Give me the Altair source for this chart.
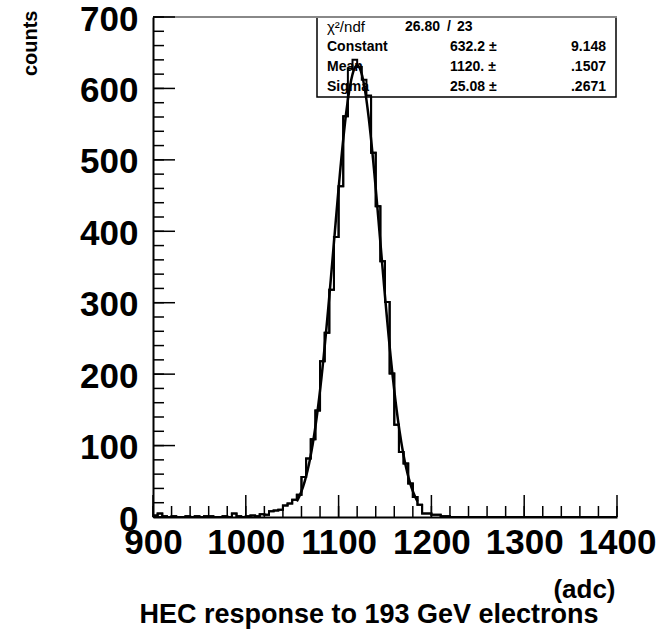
import altair as alt
import pandas as pd

FONT = "Liberation Sans"

# ---- data -------------------------------------------------------------
bin_low = [900 + 5 * i for i in range(100)]          # 5-adc bins, 900..1400
counts = [
    2, 5, 1, 0, 1, 0, 0, 1, 0, 1,            # 900-945
    0, 1, 1, 0, 0, 1, 0, 5, 1, 0,            # 950-995
    1, 2, 1, 4, 3, 8, 9, 10, 16, 19,         # 1000-1045
    24, 31, 56, 82, 109, 149, 218, 258, 318, 392,   # 1050-1095
    463, 561, 628, 640, 630, 612, 590, 510, 435, 358,  # 1100-1145
    301, 201, 129, 91, 75, 47, 28, 17, 5, 5,  # 1150-1195
    3, 3, 1, 1, 0, 0, 0, 0, 0, 0,            # 1200-1245
    0, 0, 0, 0, 0, 0, 0, 0, 0, 0,            # 1250-1295
    0, 0, 0, 0, 0, 0, 0, 0, 0, 0,            # 1300-1345
    0, 0, 0, 0, 0, 0, 0, 0, 0, 0,            # 1350-1395
]
fit_const, fit_mean, fit_sigma = 632.2, 1120.0, 25.08
fit_lo, fit_hi = 1055, 1185

x_major = [900, 1000, 1100, 1200, 1300, 1400]
x_minor = list(range(900, 1401, 20))
y_major = [0, 100, 200, 300, 400, 500, 600, 700]
y_minor = list(range(0, 701, 20))

stat_names = ["Constant", "Mean", "Sigma"]
stat_values = ["632.2 \u00b1", "1120. \u00b1", "25.08 \u00b1"]
stat_errors = ["9.148", ".1507", ".2671"]
chi2_text, ndf_text = "26.80", "23"

# ---- geometry ---------------------------------------------------------
W, H = 464, 500
xs = alt.Scale(domain=[900, 1400], nice=False, zero=False)
ys = alt.Scale(domain=[0, 700], nice=False, zero=True)

xaxis = alt.Axis(values=x_major, title="(adc)", format="d",
                 labelFont=FONT, labelFontWeight="bold", labelFontSize=35,
                 labelColor="black", labelPadding=8, labelFlush=False,
                 labelOverlap=False, ticks=False, grid=False,
                 domainColor="black", domainWidth=2,
                 titleFont=FONT, titleFontWeight="bold", titleFontSize=26,
                 titleColor="black", titleX=462, titleY=72,
                 titleAlign="right", titleBaseline="middle")
yaxis = alt.Axis(values=y_major, title="counts", format="d",
                 labelFont=FONT, labelFontWeight="bold", labelFontSize=35,
                 labelColor="black", labelPadding=15, labelFlush=False,
                 labelOverlap=False, labelOffset=2, ticks=False, grid=False,
                 domainColor="black", domainWidth=2,
                 titleFont=FONT, titleFontWeight="bold", titleFontSize=20,
                 titleColor="black", titleX=-123, titleY=-7, titleAngle=270,
                 titleAlign="right", titleBaseline="middle")

hist_df = pd.DataFrame({"x": bin_low + [1400], "y": counts + [counts[-1]]})

one = pd.DataFrame({"a": [0]})


def txt(s, x, y, size=14, weight="bold", align="left"):
    return alt.Chart(pd.DataFrame({"t": [s]})).mark_text(
        font=FONT, fontSize=size, fontWeight=weight, align=align,
        baseline="middle", color="black"
    ).encode(x=alt.value(x), y=alt.value(y), text="t:N")


box = alt.Chart(one).mark_rect(fill="white", stroke="black", strokeWidth=1.5).encode(
    x=alt.value(164), x2=alt.value(463), y=alt.value(0), y2=alt.value(80))

texts = [txt("\u03c7\u00b2/ndf", 174, 10, size=15, weight="normal"),
         txt(chi2_text, 252, 10), txt("/", 294, 10), txt(ndf_text, 304, 10)]
rows_y = [30, 50, 70]
for name, val, err, yy in zip(stat_names, stat_values, stat_errors, rows_y):
    texts += [txt(name, 174, yy), txt(val, 297, yy), txt(err, 453, yy, align="right")]

hist = alt.Chart(hist_df).mark_line(
    interpolate="step-after", color="black", strokeWidth=2
).encode(x=alt.X("x:Q", scale=xs, axis=xaxis), y=alt.Y("y:Q", scale=ys, axis=yaxis))

fit = alt.Chart(alt.sequence(fit_lo, fit_hi + 0.5, 0.5, as_="x")).transform_calculate(
    y=f"{fit_const}*exp(-0.5*pow((datum.x-{fit_mean})/{fit_sigma},2))"
).mark_line(color="black", strokeWidth=2.5).encode(
    x=alt.X("x:Q", scale=xs), y=alt.Y("y:Q", scale=ys))

xmin_t = alt.Chart(pd.DataFrame({"v": x_minor})).mark_rule(color="black", strokeWidth=1.5).encode(
    x=alt.X("v:Q", scale=xs), y=alt.value(H), y2=alt.value(H - 11))
xmaj_t = alt.Chart(pd.DataFrame({"v": x_major})).mark_rule(color="black", strokeWidth=1.5).encode(
    x=alt.X("v:Q", scale=xs), y=alt.value(H), y2=alt.value(H - 22))
ymin_t = alt.Chart(pd.DataFrame({"v": y_minor})).mark_rule(color="black", strokeWidth=1.5).encode(
    y=alt.Y("v:Q", scale=ys), x=alt.value(0), x2=alt.value(11))
ymaj_t = alt.Chart(pd.DataFrame({"v": y_major})).mark_rule(color="black", strokeWidth=1.5).encode(
    y=alt.Y("v:Q", scale=ys), x=alt.value(0), x2=alt.value(22))
top_line = alt.Chart(one).mark_rule(color="#888888", strokeWidth=2).encode(
    x=alt.value(0), x2=alt.value(W), y=alt.value(0))

title = txt("HEC response to 193 GeV electrons", 216, 598, size=27, align="center")

chart = alt.layer(
    hist, box, *texts, top_line, xmin_t, xmaj_t, ymin_t, ymaj_t, fit,
    hist.encode(x=alt.X("x:Q", scale=xs), y=alt.Y("y:Q", scale=ys)), title
).properties(
    width=W, height=H,
    padding={"left": 153, "top": 17, "right": 43, "bottom": 113},
    autosize=alt.AutoSizeParams(type="none"),
    background="white",
).configure_view(stroke=None)

chart.save("out.html", embed_options={"renderer": "svg", "actions": False})
